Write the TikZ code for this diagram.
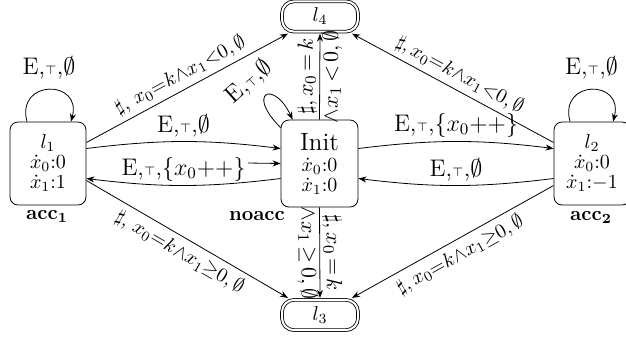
\documentclass[tikz,border=0pt]{standalone}
\usetikzlibrary{arrows.meta}
\newcommand{\ETE}{E,$\scriptscriptstyle\top$,$\emptyset$}
\newcommand{\ETX}{E,$\scriptscriptstyle\top$,$\{x_0{+}{+}\}$}
\tikzset{
  locbox/.style={draw, rounded corners=4pt, minimum width=38pt, minimum height=41.5pt,
    align=center, font=\fontsize{10}{10}\selectfont, inner sep=1pt},
  finbox/.style={draw, double, double distance=1pt, rounded corners=6pt, minimum width=38pt,
    minimum height=14.5pt, outer sep=1pt, font=\fontsize{10}{10}\selectfont},
  arr/.style={-{Stealth[length=4pt,width=3pt]}},
  lab/.style={font=\fontsize{12}{13}\selectfont, inner sep=2pt},
  dlab/.style={font=\fontsize{10}{12}\selectfont, inner sep=2.5pt},
  vlab/.style={font=\fontsize{11}{12.5}\selectfont, align=center, inner sep=0pt},
  acclab/.style={font=\fontsize{10}{12}\selectfont}
}
\begin{document}
\begin{tikzpicture}[x=0.5pt,y=0.5pt]
\useasboundingbox (0,0) rectangle (626,-339);
% nodes
\node[finbox] (l4) at (320,-16.5) {$l_4$};
\node[finbox] (l3) at (320,-315) {$l_3$};
\node[locbox, minimum width=38.5pt, minimum height=43.5pt] (init) at (319.5,-163.5)
  {{\fontsize{12.5}{12}\selectfont Init}\\[0.5pt]$\dot{x}_0$:0\\$\dot{x}_1$:0};
\node[locbox] (l1) at (48,-163.5) {$l_1$\\$\dot{x}_0$:0\\$\dot{x}_1$:1};
\node[locbox] (l2) at (592,-163.5) {$l_2$\\$\dot{x}_0$:0\\$\dot{x}_1$:$-1$};
\node[acclab] (acc1) at (47,-217) {$\mathbf{acc_1}$};
\node[acclab] (acc2) at (591,-218) {$\mathbf{acc_2}$};
\node[acclab] (noacc) at (257,-216) {$\mathbf{noacc}$};
% self loops
\draw[arr] ([xshift=-10.5pt]l1.north) .. controls +(105:22pt) and +(75:22pt) ..
  node[lab, above=3pt, pos=0.5] (l1looplab) {\ETE} ([xshift=11.5pt]l1.north);
\draw[arr] ([xshift=-11pt]l2.north) .. controls +(105:22pt) and +(75:22pt) ..
  node[lab, above=3pt, pos=0.5] (l2looplab) {\ETE} ([xshift=10.5pt]l2.north);
\draw[arr] ([yshift=-4pt]init.north west) .. controls +(135:25pt) and +(115:22pt) ..
  ([xshift=6pt]init.north west);
\node[lab, rotate=42] (initlooplab) at (249,-82) {\ETE};
% diagonals
\draw[arr] ([yshift=10.5pt]l1.east) -- node[dlab, above, sloped] {$\sharp$, $x_0{=}k{\wedge}x_1{<}0,\emptyset$} ([xshift=4pt]l4.south west);
\draw[arr] ([yshift=10.5pt]l2.west) -- node[dlab, above, sloped] {$\sharp,x_0{=}k{\wedge}x_1{<}0,\emptyset$} ([xshift=-4pt]l4.south east);
\draw[arr] ([yshift=-8.5pt]l1.east) -- node[dlab, below, sloped] {$\sharp$, $x_0{=}k{\wedge}x_1{\geq}0,\emptyset$} ([xshift=4pt]l3.north west);
\draw[arr] ([yshift=-11pt]l2.west) -- node[dlab, below, sloped] {$\sharp,x_0{=}k{\wedge}x_1{\geq}0,\emptyset$} ([xshift=-4pt]l3.north east);
% verticals
\draw[arr] (init.north) -- node[vlab, sloped] {$\sharp,x_0\,{=}\,k$\\$\wedge x_1\,{<}\,0,\emptyset$} (l4.south);
\draw[arr] (init.south) -- node[vlab, sloped] {$\sharp,x_0\,{=}\,k$\\$\wedge x_1\,{\geq}\,0,\emptyset$} (l3.north);
% horizontals
\draw[arr] ([yshift=7.5pt]l1.east) to[bend left=7] node[lab, above] {\ETE} ([yshift=7.5pt]init.west);
\draw[arr] ([yshift=-7.5pt]init.west) to[bend left=7] node[lab, above] {\ETX} ([yshift=-7.5pt]l1.east);
\draw[arr] ([yshift=7.5pt]init.east) to[bend left=7] node[lab, above] {\ETX} ([yshift=7.5pt]l2.west);
\draw[arr] ([yshift=-7.5pt]l2.west) to[bend left=7] node[lab, above] {\ETE} ([yshift=-7.5pt]init.east);
% initial arrow
\coordinate (initstart) at (248,-163);
\draw[arr] (initstart) -- (init.west);
\end{tikzpicture}
\end{document}
